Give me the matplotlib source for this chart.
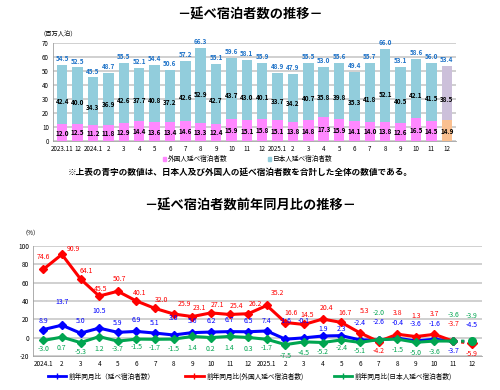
import numpy as np
import matplotlib.pyplot as plt
from matplotlib.patches import Patch
from matplotlib.lines import Line2D

plt.rcParams['font.family'] = ['Noto Sans CJK JP', 'DejaVu Sans']
plt.rcParams['axes.unicode_minus'] = False

# --- 延べ宿泊者数 (百万人泊) ---
bar_months = ['2023.11', '12', '2024.1', '2', '3', '4', '5', '6', '7', '8', '9', '10', '11', '12',
              '2025.1', '2', '3', '4', '5', '6', '7', '8', '9', '10', '11', '12']
total = [54.5, 52.5, 45.5, 48.7, 55.5, 52.1, 54.4, 50.6, 57.2, 66.3, 55.1, 59.6, 58.1, 55.9,
         48.9, 47.9, 55.5, 53.0, 55.6, 49.4, 55.7, 66.0, 53.1, 58.6, 56.0, 53.4]
japanese = [42.4, 40.0, 34.3, 36.9, 42.6, 37.7, 40.8, 37.2, 42.6, 52.9, 42.7, 43.7, 43.0, 40.1,
            33.7, 34.2, 40.7, 35.8, 39.8, 35.3, 41.8, 52.1, 40.5, 42.1, 41.5, 38.5]
foreign = [12.0, 12.5, 11.2, 11.8, 12.9, 14.4, 13.6, 13.4, 14.6, 13.3, 12.4, 15.9, 15.1, 15.8,
           15.1, 13.8, 14.8, 17.3, 15.9, 14.1, 14.0, 13.8, 12.6, 16.5, 14.5, 14.9]

# --- 前年同月比 (%) ---
line_months = ['2024.1', '2', '3', '4', '5', '6', '7', '8', '9', '10', '11', '12',
               '2025.1', '2', '3', '4', '5', '6', '7', '8', '9', '10', '11', '12']
yoy_total = [8.9, 13.7, 5.0, 10.5, 5.9, 6.9, 5.1, 3.0, 5.6, 6.2, 6.7, 6.5,
             7.4, -1.6, -0.1, 1.9, 2.3, -2.4, -2.6, -0.4, -3.6, -1.6, -3.7, -4.5]
yoy_foreign = [74.6, 90.9, 64.1, 45.5, 50.7, 40.1, 32.0, 25.9, 23.1, 27.1, 25.4, 26.2,
               35.2, 16.6, 14.5, 20.4, 16.7, 5.3, -4.2, 3.8, 1.3, 3.7, -3.7, -5.9]
yoy_japanese = [-3.0, 0.7, -5.3, 1.2, -3.7, -1.5, -1.7, -1.5, 1.4, 0.2, 1.4, 0.3,
                -1.7, -7.5, -4.5, -5.2, -2.4, -5.1, -2.0, -1.5, -5.0, -3.6, -3.6, -3.9]

# label offsets (points) for the yoy labels
off_total = [6, 17, 9, 12, 7, 8, 7, 12, 8, 8, 8, 8, 7, 13, 12, 5, 5, 12, 13, 11, 12, 11, -7, 12]
off_foreign = [9, 4, 6, 5, 9, 6, 6, 7, 6, 6, 6, 7, 9, 7, 7, 8, 7, 16, -7, 15, 15, 15, 12, -8]
off_foreign_x = [0, 8, 4, 1, 1, 2, 5, 8, 5, 5, 5, 5, 8, 4, 2, 3, 3, 3, 0, 0, 0, 0, 0, 0]
off_japanese = [-6, -8, -7, -9, -6, -6, -6, -7, -8, -8, -8, -8, -6, -8, -8, -7, -6, -6, 19, -8, -8, -8, 19, 18]

fig = plt.figure(figsize=(5, 3.9), dpi=100)

fig.text(0.5, 0.962, '－延べ宿泊者数の推移－', ha='center', va='center', fontsize=9.5, fontweight='bold')

# ---------------- bar chart ----------------
ax1 = fig.add_axes([0.106, 0.638, 0.806, 0.252])
x = np.arange(len(bar_months))
jp_col = ['#92cddc'] * (len(x) - 1) + ['#ccc0da']
fr_col = ['#ff88ff'] * (len(x) - 1) + ['#fac090']
ax1.bar(x, foreign, width=0.68, color=fr_col, zorder=3)
ax1.bar(x, japanese, width=0.68, bottom=foreign, color=jp_col, zorder=3)
for i in range(len(x)):
    ax1.annotate(f'{total[i]:.1f}', (x[i], total[i]), xytext=(0, 2), textcoords='offset points',
                 ha='center', va='bottom', fontsize=4.6, color='#1f73c8', fontweight='bold')
    ax1.text(x[i], foreign[i] + japanese[i] * 0.38, f'{japanese[i]:.1f}', ha='center', va='center',
             fontsize=4.6, color='black', fontweight='bold', zorder=4)
    ax1.text(x[i], foreign[i] * 0.48, f'{foreign[i]:.1f}', ha='center', va='center',
             fontsize=4.6, color='black', fontweight='bold', zorder=4)
ax1.set_xlim(-0.6, len(x) - 0.4)
ax1.set_ylim(0, 70)
ax1.set_yticks(range(0, 71, 10))
ax1.set_xticks(x)
ax1.set_xticklabels(bar_months)
ax1.tick_params(axis='both', labelsize=4.5, length=0, pad=3)
ax1.grid(axis='y', color='#c8c8c8', linewidth=1.2, zorder=0)
for s in ['top', 'right']:
    ax1.spines[s].set_visible(False)
ax1.spines['left'].set_color('#a0a0a0')
ax1.spines['bottom'].set_color('#a0a0a0')
ax1.spines['left'].set_linewidth(0.6)
ax1.spines['bottom'].set_linewidth(0.6)
fig.text(0.08, 0.913, '（百万人泊）', ha='left', va='center', fontsize=4.5)

h1 = [Patch(color='#ff88ff'), Patch(color='#92cddc')]
fig.legend(h1, ['外国人延べ宿泊者数', '日本人延べ宿泊者数'], loc='center', bbox_to_anchor=(0.495, 0.592),
           ncol=2, frameon=False, fontsize=4.8, handlelength=0.5, handleheight=0.5,
           handletextpad=0.3, columnspacing=6)
fig.text(0.48, 0.558, '※上表の青字の数値は、日本人及び外国人の延べ宿泊者数を合計した全体の数値である。',
         ha='center', va='center', fontsize=6.2, fontweight='bold')

fig.text(0.5, 0.474, '－延べ宿泊者数前年同月比の推移－', ha='center', va='center', fontsize=9.5, fontweight='bold')

# ---------------- line chart ----------------
ax2 = fig.add_axes([0.066, 0.087, 0.898, 0.282])
xl = np.arange(len(line_months))
series = [
    (yoy_total, '#0000ff', off_total, [0] * len(xl), '前年同月比（延べ宿泊者数）', 'italic'),
    (yoy_foreign, '#ff0000', off_foreign, off_foreign_x, '前年同月比(外国人延べ宿泊者数)', 'italic'),
    (yoy_japanese, '#00a550', off_japanese, [0] * len(xl), '前年同月比(日本人延べ宿泊者数)', 'normal'),
]
handles = []
for k, (vals, col, offs, offx, name, style) in enumerate(series):
    z = 5 if k == 2 else 4
    ax2.plot(xl[:-1], vals[:-1], color=col, linewidth=2.2, marker='D', markersize=4.2, zorder=z)
    ax2.plot(xl[-2:], vals[-2:], color=col, linewidth=2.2, linestyle=':', zorder=z)
    for i in range(len(xl)):
        ax2.annotate(f'{vals[i]:.1f}', (xl[i], vals[i]), xytext=(offx[i], offs[i]), textcoords='offset points',
                     ha='center', va='center', fontsize=5.0, color=col, style=style, zorder=6)
    handles.append(Line2D([], [], color=col, linewidth=2, marker='+', markersize=4))
ax2.plot(xl[-1], yoy_foreign[-1], marker='D', color='#ff0000', markersize=5, zorder=4)
ax2.plot(xl[-1], yoy_japanese[-1], marker='o', color='#00a550', markersize=5.5, zorder=5)

ax2.set_xlim(-0.55, len(xl) - 0.45)
ax2.set_ylim(-20, 100)
ax2.set_yticks(range(-20, 101, 20))
ax2.set_xticks(xl)
ax2.set_xticklabels(line_months)
ax2.tick_params(axis='both', labelsize=4.6, length=0, pad=3)
ax2.grid(axis='y', color='#c8c8c8', linewidth=1.2, zorder=0)
for s in ['top', 'right']:
    ax2.spines[s].set_visible(False)
ax2.spines['left'].set_color('#a0a0a0')
ax2.spines['bottom'].set_color('#a0a0a0')
ax2.spines['left'].set_linewidth(0.6)
ax2.spines['bottom'].set_linewidth(0.6)
fig.text(0.044, 0.403, '（%）', ha='left', va='center', fontsize=4.5)

fig.legend(handles, [s[4] for s in series], loc='center', bbox_to_anchor=(0.5, 0.034), ncol=3,
           frameon=False, fontsize=4.8, handlelength=2.8, handletextpad=0.4, columnspacing=4.5)

fig.savefig('out.png', dpi=100)
